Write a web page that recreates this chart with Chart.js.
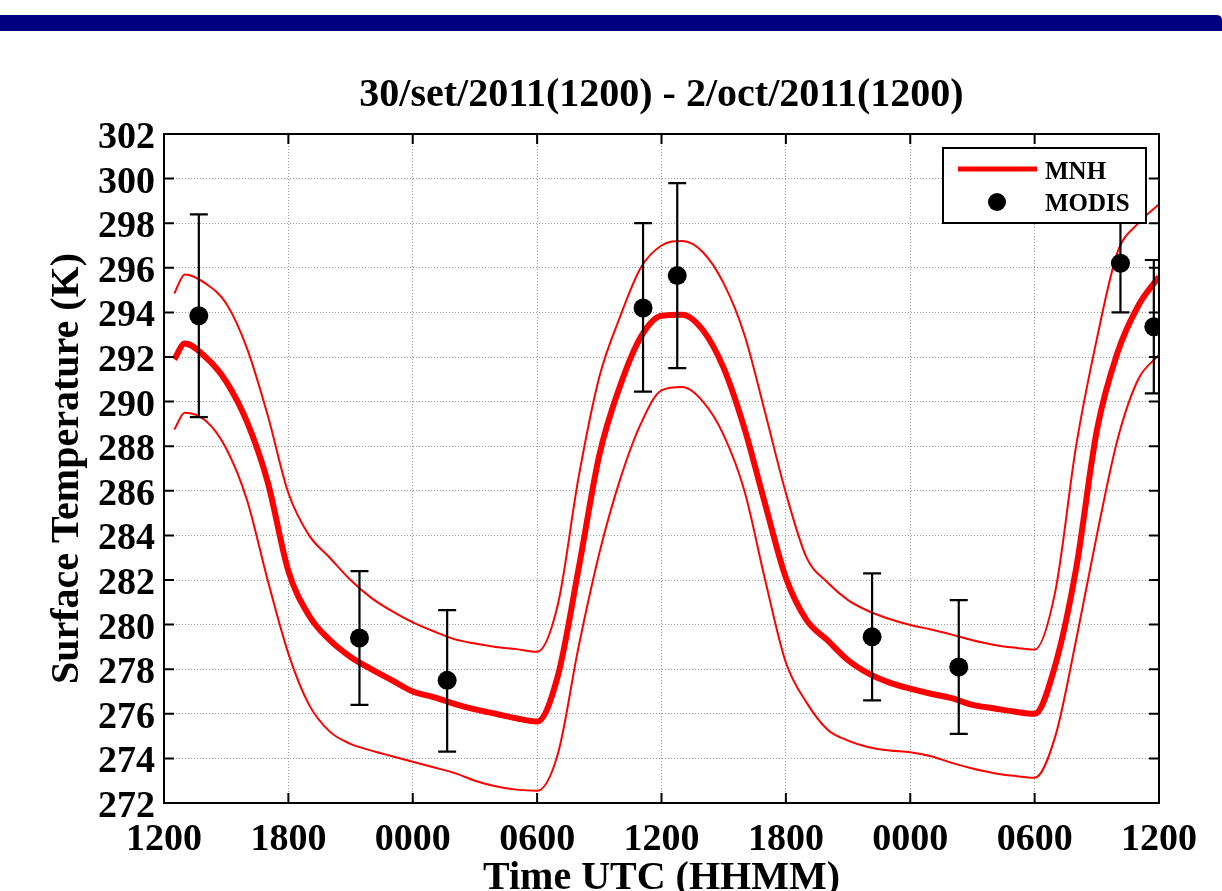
<!DOCTYPE html>
<html>
<head>
<meta charset="utf-8">
<title>Surface Temperature - MNH vs MODIS</title>
<script src="https://cdn.jsdelivr.net/npm/chart.js@4.4.1/dist/chart.umd.min.js"></script>
<style>
    body { margin: 0; background: #ffffff; }
    #wrap { position: relative; width: 1222px; height: 891px; }
</style>
</head>
<body>
<div id="wrap"><canvas id="tempChart" width="1222" height="891"></canvas></div>
<script>
// hours after 30/set/2011 1200 UTC
const hours = [0.5, 1, 2, 3, 4, 5, 6, 7, 8, 9, 10, 11, 12, 13, 14, 15, 16, 17, 18,
    19, 20, 21, 22, 23, 24, 25, 26, 27, 28, 29, 30, 31, 32, 33, 34, 35, 36,
    37, 38, 39, 40, 41, 42, 43, 44, 45, 46, 47, 48];

// MNH simulation (thick line) and the thin envelope lines
const mnhMean = [291.9, 292.6, 292.0, 290.9, 289.1, 286.4, 282.4, 280.4, 279.3, 278.55,
    278.0, 277.5, 277.0, 276.75, 276.45, 276.2, 276.0, 275.8, 275.65,
    277.7, 282.5, 287.6, 290.7, 292.9, 293.85, 293.9, 293.2, 291.5, 288.8,
    285.4, 282.1, 280.2, 279.3, 278.4, 277.8, 277.4, 277.13, 276.9, 276.7,
    276.4, 276.25, 276.1, 276.0, 278.2, 282.5, 288.7, 292.2, 294.3, 295.6];
const mnhUpper = [294.85, 295.7, 295.3, 294.4, 292.4, 289.4, 285.9, 284.0, 283.0, 282.0,
    281.2, 280.6, 280.1, 279.7, 279.35, 279.15, 279.0, 278.9, 278.78,
    280.9, 286.6, 291.1, 293.8, 296.0, 297.0, 297.2, 296.7, 295.3, 293.0,
    289.5, 285.9, 283.0, 281.9, 281.1, 280.6, 280.25, 279.98, 279.78, 279.55,
    279.3, 279.1, 278.97, 278.88, 281.5, 288.0, 292.8, 296.7, 298.0, 298.85];
const mnhLower = [288.75, 289.5, 289.15, 287.9, 285.6, 282.0, 278.7, 276.4, 275.2, 274.65,
    274.35, 274.1, 273.85, 273.6, 273.35, 273.0, 272.75, 272.6, 272.55,
    274.2, 279.0, 283.2, 286.5, 289.0, 290.5, 290.65, 290.0, 288.5, 286.0,
    282.0, 278.3, 276.5, 275.3, 274.8, 274.5, 274.35, 274.28, 274.1, 273.8,
    273.55, 273.35, 273.22, 273.13, 275.0, 279.3, 284.0, 288.3, 291.0, 292.1];

// MODIS observations with error bars
const modisHours = [1.68, 9.43, 13.66, 23.11, 24.76, 34.16, 38.34, 46.14, 47.75];
const modisTemp = [293.85, 279.4, 277.5, 294.2, 295.65, 279.45, 278.1, 296.2, 293.36];
const modisLow = [289.3, 276.4, 274.3, 290.45, 291.5, 276.6, 275.1, 294.0, 290.37];
const modisHigh = [298.4, 282.4, 280.65, 298.0, 299.8, 282.3, 281.1, 298.3, 296.35];

const xTickLabels = ['1200', '1800', '0000', '0600', '1200', '1800', '0000', '0600', '1200'];

const titleText = '30/set/2011(1200) - 2/oct/2011(1200)';
const xTitle = 'Time UTC (HHMM)';
const yTitle = 'Surface Temperature (K)';

const SERIF = '"Liberation Serif", "Times New Roman", serif';

function toPoints(xs, ys) {
    return xs.map((x, i) => ({ x: x, y: ys[i] }));
}

// frame, inward ticks, labels, error bars and legend in MATLAB style
const matlabFrame = {
    id: 'matlabFrame',
    beforeDraw(chart) {
        const ctx = chart.ctx;
        ctx.save();
        ctx.fillStyle = '#ffffff';
        ctx.fillRect(0, 0, chart.width, chart.height);
        // navy bar of the slide
        ctx.fillStyle = '#000080';
        ctx.beginPath();
        ctx.moveTo(0, 15);
        ctx.lineTo(1216, 15);
        ctx.quadraticCurveTo(1222, 15, 1222, 20);
        ctx.lineTo(1222, 31);
        ctx.lineTo(0, 31);
        ctx.closePath();
        ctx.fill();
        ctx.restore();
    },
    afterDatasetsDraw(chart) {
        const ctx = chart.ctx;
        const xs = chart.scales.x, ys = chart.scales.y;
        const area = chart.chartArea;
        ctx.save();
        ctx.beginPath();
        ctx.rect(area.left, area.top, area.right - area.left, area.bottom - area.top);
        ctx.clip();
        ctx.strokeStyle = '#000000';
        ctx.lineWidth = 2.2;
        modisHours.forEach((h, i) => {
            const px = xs.getPixelForValue(h);
            const lo = ys.getPixelForValue(modisLow[i]);
            const hi = ys.getPixelForValue(modisHigh[i]);
            ctx.beginPath();
            ctx.moveTo(px, lo); ctx.lineTo(px, hi);
            ctx.moveTo(px - 9, lo); ctx.lineTo(px + 9, lo);
            ctx.moveTo(px - 9, hi); ctx.lineTo(px + 9, hi);
            ctx.stroke();
        });
        ctx.restore();
    },
    afterDraw(chart) {
        const ctx = chart.ctx;
        const xs = chart.scales.x, ys = chart.scales.y;
        const a = chart.chartArea;
        ctx.save();

        // box + inward ticks
        ctx.strokeStyle = '#000000';
        ctx.lineWidth = 2;
        ctx.strokeRect(a.left, a.top, a.right - a.left, a.bottom - a.top);
        ctx.beginPath();
        xs.ticks.forEach(t => {
            const px = xs.getPixelForValue(t.value);
            ctx.moveTo(px, a.bottom); ctx.lineTo(px, a.bottom - 10);
            ctx.moveTo(px, a.top); ctx.lineTo(px, a.top + 10);
        });
        ys.ticks.forEach(t => {
            const py = ys.getPixelForValue(t.value);
            ctx.moveTo(a.left, py); ctx.lineTo(a.left + 10, py);
            ctx.moveTo(a.right, py); ctx.lineTo(a.right - 10, py);
        });
        ctx.stroke();

        // tick labels
        ctx.fillStyle = '#000000';
        ctx.font = 'bold 38px ' + SERIF;
        ctx.textBaseline = 'alphabetic';
        ctx.textAlign = 'right';
        ys.ticks.forEach(t => {
            const py = ys.getPixelForValue(t.value);
            ctx.fillText(String(t.value), a.left - 9, py + 14);
        });
        ctx.textAlign = 'center';
        xs.ticks.forEach((t, i) => {
            const px = xs.getPixelForValue(t.value);
            ctx.fillText(xTickLabels[i], px, a.bottom + 47);
        });

        // titles
        const cx = (a.left + a.right) / 2;
        ctx.font = 'bold 40px ' + SERIF;
        ctx.fillText(titleText, cx, 106);
        ctx.fillText(xTitle, cx, 889);
        ctx.save();
        ctx.translate(78, (a.top + a.bottom) / 2);
        ctx.rotate(-Math.PI / 2);
        ctx.fillText(yTitle, 0, 0);
        ctx.restore();

        // legend
        const ds = chart.data.datasets;
        ctx.fillStyle = '#ffffff';
        ctx.fillRect(943, 148, 203, 75);
        ctx.strokeStyle = '#000000';
        ctx.lineWidth = 2;
        ctx.strokeRect(943, 148, 203, 75);
        ctx.strokeStyle = '#ff0000';
        ctx.lineWidth = 5;
        ctx.beginPath();
        ctx.moveTo(958, 169); ctx.lineTo(1037, 169);
        ctx.stroke();
        ctx.fillStyle = '#000000';
        ctx.beginPath();
        ctx.arc(997, 202, 9, 0, Math.PI * 2);
        ctx.fill();
        ctx.font = 'bold 25px ' + SERIF;
        ctx.textAlign = 'left';
        ctx.fillText(ds[1].label, 1045, 179);
        ctx.fillText(ds[0].label, 1045, 211);

        ctx.restore();
    }
};

const ctx = document.getElementById('tempChart');
new Chart(ctx, {
    type: 'scatter',
    data: {
        datasets: [
            {
                label: 'MODIS',
                data: toPoints(modisHours, modisTemp),
                backgroundColor: '#000000',
                borderWidth: 0,
                pointRadius: 9.5,
                pointHoverRadius: 9.5
            },
            {
                label: 'MNH',
                data: toPoints(hours, mnhMean),
                showLine: true,
                borderColor: '#ff0000',
                borderWidth: 6,
                pointRadius: 0,
                cubicInterpolationMode: 'monotone'
            },
            {
                label: 'MNH +',
                data: toPoints(hours, mnhUpper),
                showLine: true,
                borderColor: '#ff0000',
                borderWidth: 2,
                pointRadius: 0,
                cubicInterpolationMode: 'monotone'
            },
            {
                label: 'MNH -',
                data: toPoints(hours, mnhLower),
                showLine: true,
                borderColor: '#ff0000',
                borderWidth: 2,
                pointRadius: 0,
                cubicInterpolationMode: 'monotone'
            }
        ]
    },
    options: {
        responsive: false,
        devicePixelRatio: 1,
        animation: false,
        layout: {
            padding: { left: 164, right: 63, top: 134, bottom: 88 }
        },
        plugins: {
            legend: { display: false },
            tooltip: { enabled: false },
            title: { display: false }
        },
        scales: {
            x: {
                type: 'linear',
                min: 0,
                max: 48,
                ticks: { display: false, stepSize: 6 },
                grid: { color: '#9a9a9a', lineWidth: 1, drawTicks: false },
                border: { display: false, dash: [1, 2] }
            },
            y: {
                min: 272,
                max: 302,
                ticks: { display: false, stepSize: 2 },
                grid: { color: '#9a9a9a', lineWidth: 1, drawTicks: false },
                border: { display: false, dash: [1, 2] }
            }
        }
    },
    plugins: [matlabFrame]
});
</script>
</body>
</html>
